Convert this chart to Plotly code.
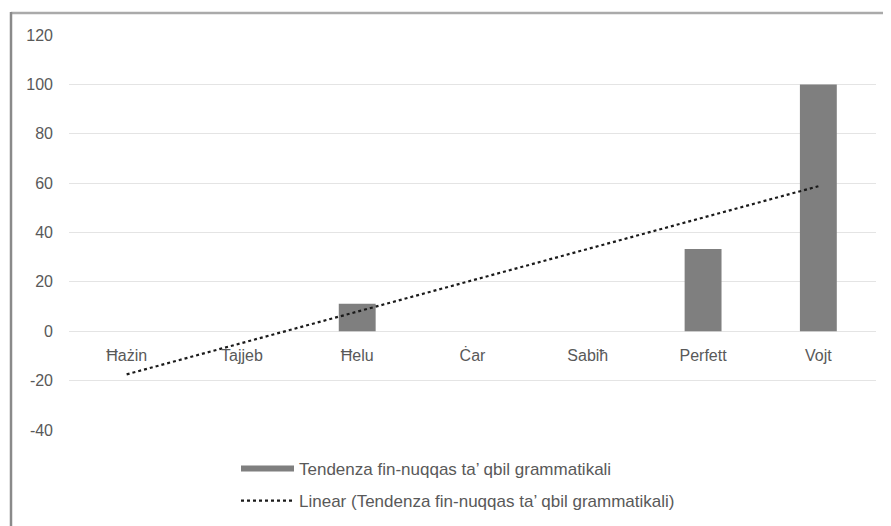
import numpy as np
import plotly.graph_objects as go

categories = ["Ħażin", "Tajjeb", "Ħelu", "Ċar", "Sabiħ", "Perfett", "Vojt"]
values = [0, 0, 11.11, 0, 0, 33.33, 100]
series_name = "Tendenza fin-nuqqas ta’ qbil grammatikali"
trend_name = "Linear (Tendenza fin-nuqqas ta’ qbil grammatikali)"
y_ticks = [-40, -20, 0, 20, 40, 60, 80, 100, 120]
y_tick_labels = ["-40", "-20", "0", "20", "40", "60", "80", "100", "120"]

# the page body has an 8px margin; the figure is sized so that it fills the window
OFF = 8
W, H = 891 - OFF, 526 - OFF
ML, MR, MT, MB = 61, 15, 27, 96
PW, PH = W - ML - MR, H - MT - MB

# linear trendline fitted on the series (x = 1..n)
xi = np.arange(1, len(values) + 1)
slope, intercept = np.polyfit(xi, values, 1)
trend_y = [slope * xi[0] + intercept, slope * xi[-1] + intercept]
trend_x = [categories[0], categories[-1]]

FONT = "Liberation Sans, Arial"
TXT = "#595959"
BAR = "#7f7f7f"

fig = go.Figure()
fig.add_trace(go.Bar(x=categories, y=values, width=0.32,
                     marker=dict(color=BAR, line=dict(width=0)),
                     name=series_name, showlegend=False))
# legend entry for the bars (wide swatch like the original)
fig.add_trace(go.Scatter(x=[None], y=[None], mode="lines",
                         line=dict(color=BAR, width=6),
                         name=series_name, legendgroup="a"))
fig.add_trace(go.Scatter(x=trend_x, y=trend_y, mode="lines",
                         line=dict(color="#1a1a1a", width=2.2, dash="dot"),
                         name=trend_name, legendgroup="b"))

y0_frac = (0 - y_ticks[0]) / (y_ticks[-1] - y_ticks[0])

def px_x(p):
    return (p - OFF - ML) / PW

def px_y(p):
    return 1 - (p - OFF - MT) / PH

fig.update_layout(
    width=W, height=H,
    margin=dict(l=ML, r=MR, t=MT, b=MB, pad=0, autoexpand=False),
    paper_bgcolor="white", plot_bgcolor="white",
    font=dict(family=FONT, size=16, color=TXT),
    xaxis=dict(type="category", range=[-0.5, len(categories) - 0.5],
               anchor="free", position=y0_frac, showgrid=False,
               showline=False, ticks="", ticklabelstandoff=13,
               tickfont=dict(family=FONT, size=16, color=TXT)),
    yaxis=dict(range=[y_ticks[0], y_ticks[-1]], tickvals=y_ticks,
               ticktext=y_tick_labels,
               showgrid=True, gridcolor="#e4e4e4", gridwidth=1,
               zeroline=False, showline=False, ticks="",
               ticklabelstandoff=15,
               tickfont=dict(family=FONT, size=16, color=TXT)),
    legend=dict(x=px_x(236), y=px_y(451), xanchor="left", yanchor="top",
                orientation="v", traceorder="grouped", tracegroupgap=7,
                itemwidth=53,
                font=dict(family=FONT, size=17, color=TXT),
                bgcolor="rgba(0,0,0,0)"),
    shapes=[
        dict(type="line", xref="paper", yref="paper",
             x0=px_x(11), x1=px_x(900), y0=px_y(13), y1=px_y(13),
             line=dict(color="#aaaaaa", width=2.5)),
        dict(type="line", xref="paper", yref="paper",
             x0=px_x(11), x1=px_x(11), y0=px_y(12), y1=px_y(540),
             line=dict(color="#8a8a8a", width=2.5)),
    ],
)

fig.write_html("out.html")
